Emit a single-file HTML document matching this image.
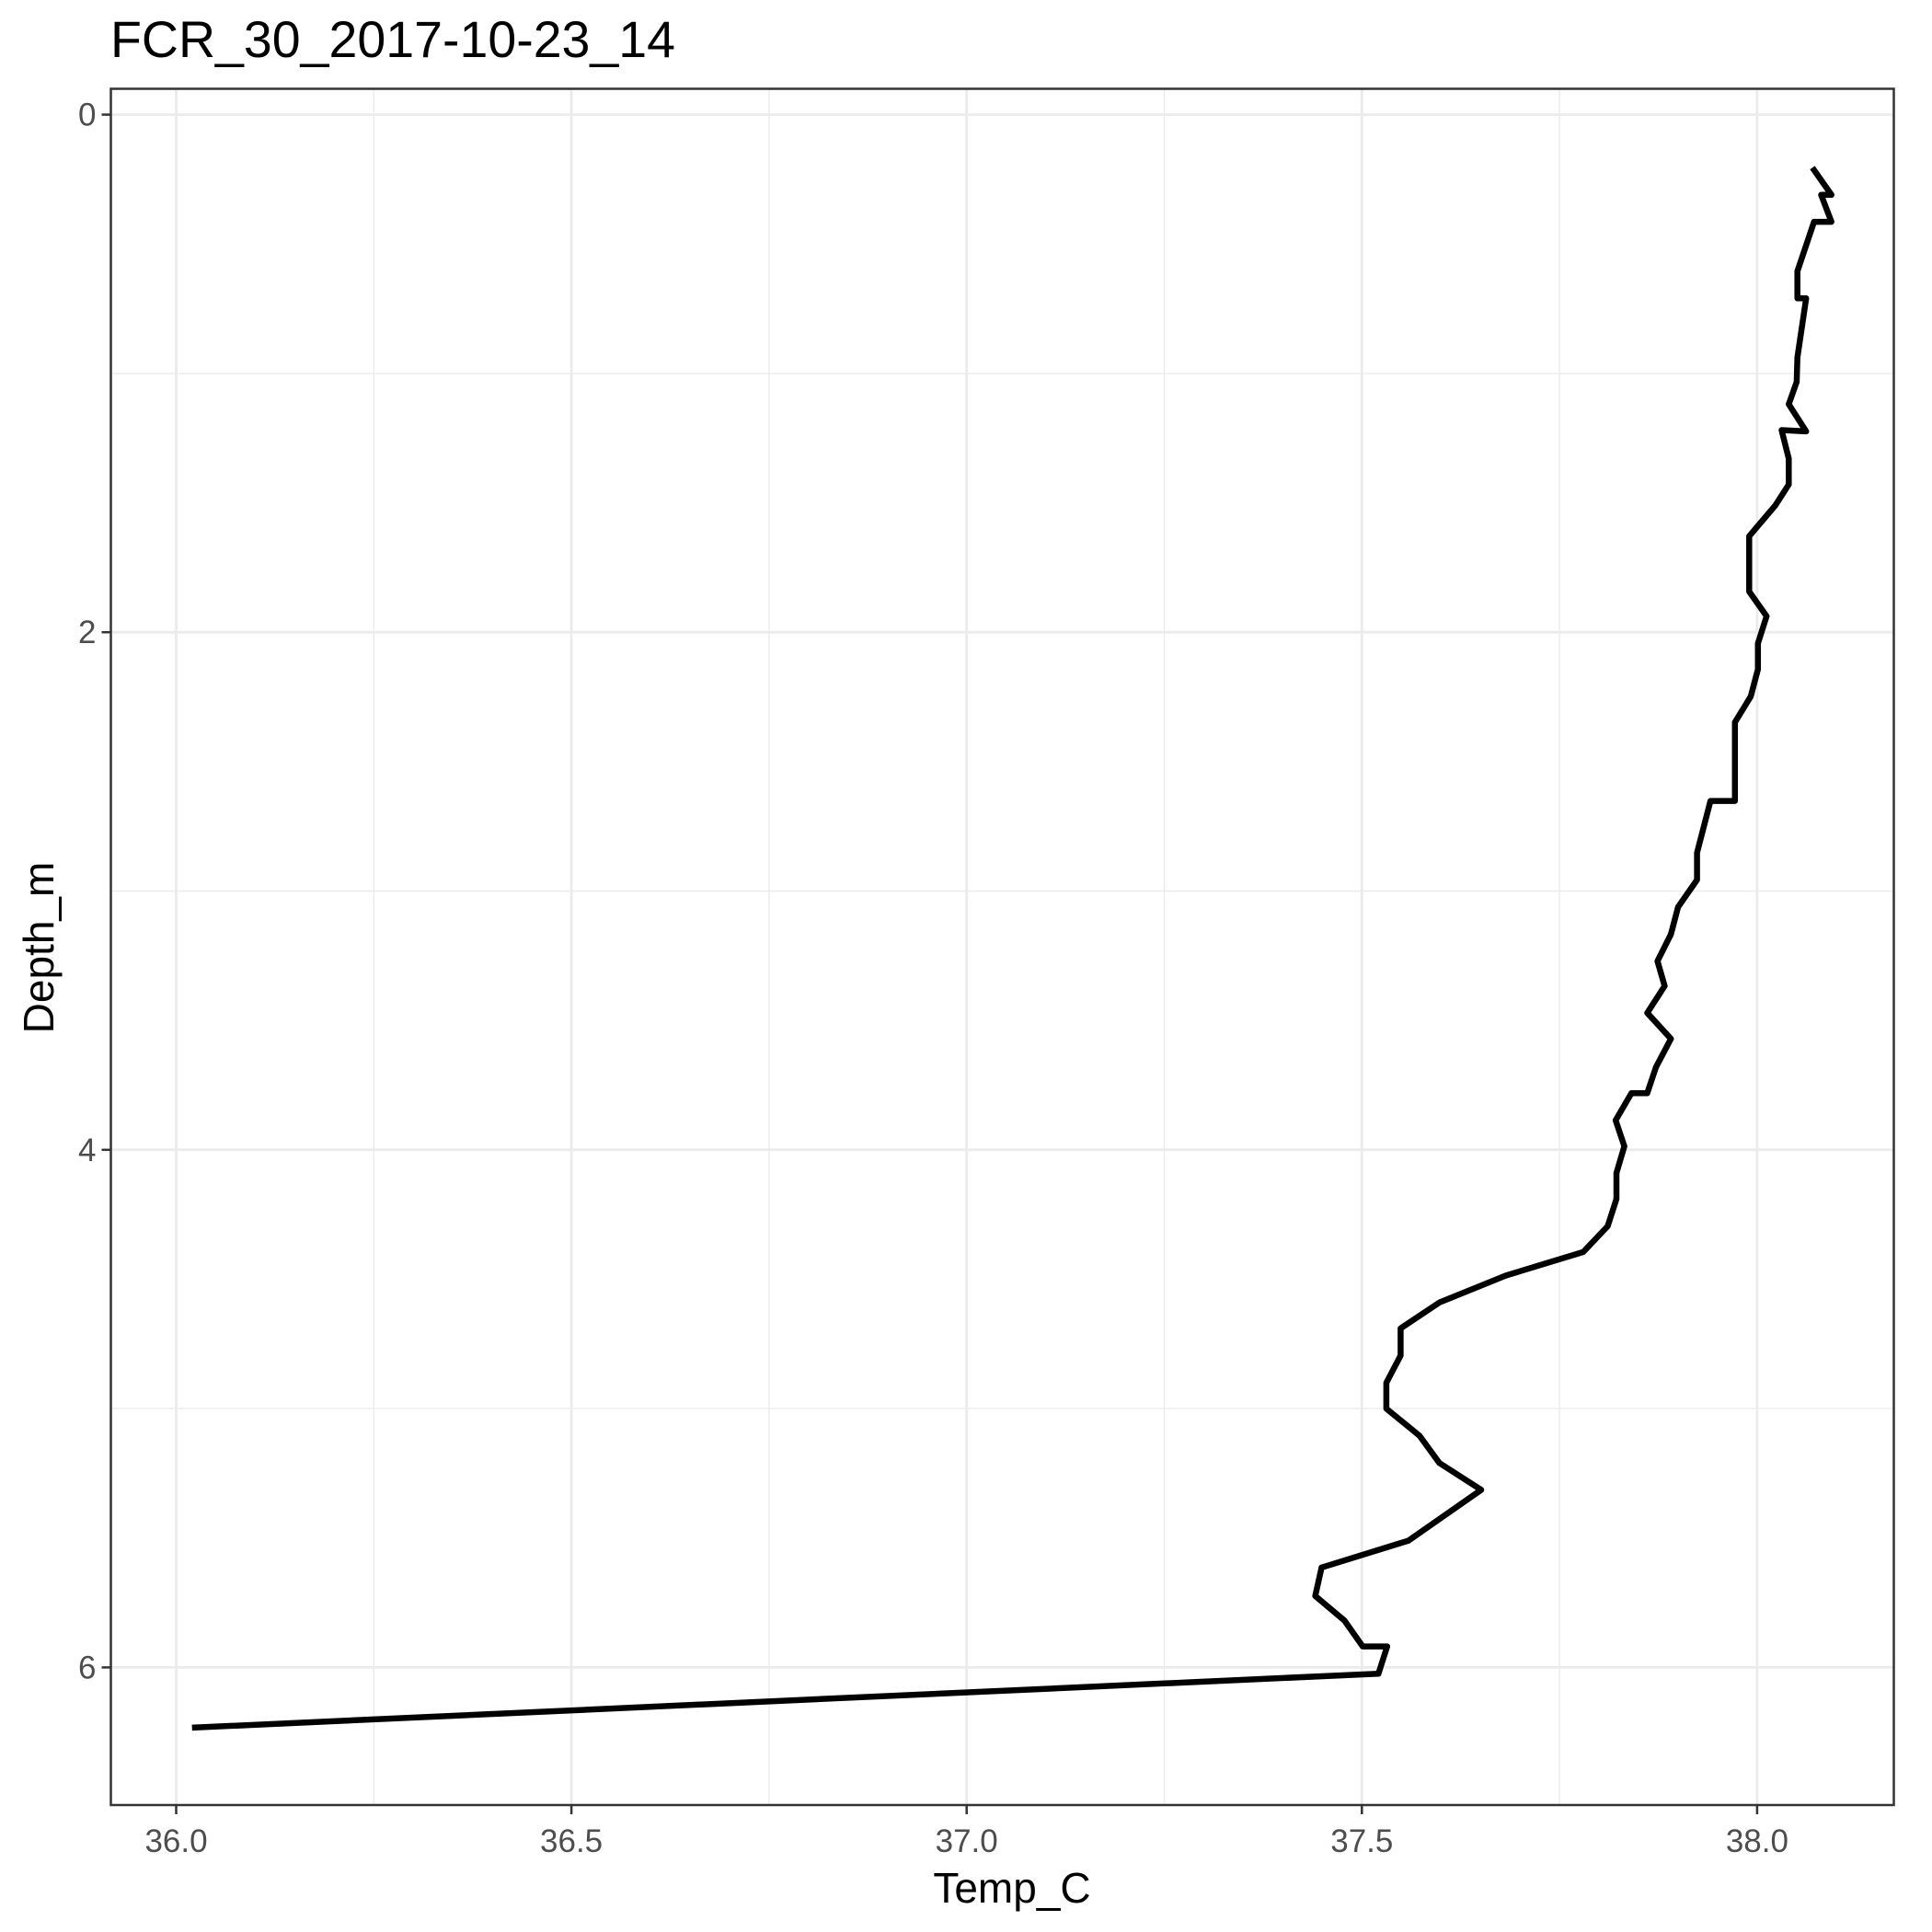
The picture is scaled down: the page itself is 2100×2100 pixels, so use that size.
<!DOCTYPE html>
<html><head><meta charset="utf-8"><style>
html,body{margin:0;padding:0;background:#fff}
svg{display:block;font-family:"Liberation Sans",Arial,sans-serif}
</style></head><body>
<svg id="chart" width="2100" height="2100" viewBox="0 0 2100 2100" xmlns="http://www.w3.org/2000/svg">
<rect width="2100" height="2100" fill="#fff"/>
<text x="120" y="62" font-size="55.5" fill="#000">FCR_30_2017-10-23_14</text>
<g id="grid"></g>
<g id="series"></g>
<rect x="120.5" y="96.5" width="1938" height="1865.5" fill="none" stroke="#333" stroke-width="2.5"/>
<g id="axes"></g>
<text x="1100" y="2068" font-size="46" text-anchor="middle" fill="#000">Temp_C</text>
<text transform="translate(58,1030) rotate(-90)" font-size="46" text-anchor="middle" fill="#000">Depth_m</text>
</svg>
<script>
const temps=[38.070,38.094,38.081,38.094,38.072,38.051,38.051,38.062,38.051,38.050,38.040,38.062,38.031,38.040,38.040,38.023,37.990,37.990,38.012,38.001,38.001,37.992,37.972,37.972,37.941,37.924,37.924,37.900,37.891,37.874,37.883,37.861,37.891,37.872,37.861,37.841,37.821,37.832,37.822,37.822,37.811,37.780,37.682,37.598,37.549,37.549,37.531,37.531,37.573,37.598,37.651,37.559,37.449,37.441,37.478,37.501,37.532,37.521,36.020];
const depths=[0.205,0.31,0.31,0.414,0.414,0.605,0.71,0.71,0.938,1.033,1.119,1.224,1.219,1.329,1.429,1.51,1.629,1.843,1.938,2.043,2.143,2.248,2.348,2.652,2.652,2.852,2.957,3.062,3.167,3.271,3.367,3.471,3.571,3.681,3.781,3.781,3.886,3.986,4.090,4.190,4.295,4.395,4.486,4.590,4.690,4.795,4.900,5.000,5.105,5.210,5.314,5.510,5.614,5.724,5.819,5.919,5.919,6.024,6.233];
const xTicks=[36.0,36.5,37.0,37.5,38.0];
const xTickLabels=["36.0","36.5","37.0","37.5","38.0"];
const xMinor=[36.25,36.75,37.25,37.75];
const yTicks=[0,2,4,6];
const yTickLabels=["0","2","4","6"];
const yMinor=[1,3,5];
const PL=120.5,PR=2058.5,PT=96.5,PB=1962;
function xs(v){return 191.5+(v-36)*859.2;}
function ys(v){return 124.6+v*281.3;}
const NS="http://www.w3.org/2000/svg";
function mk(tag,attrs,parent){const e=document.createElementNS(NS,tag);for(const k in attrs)e.setAttribute(k,attrs[k]);parent.appendChild(e);return e;}
const grid=document.getElementById('grid'),axes=document.getElementById('axes'),series=document.getElementById('series');
xMinor.forEach(v=>{const l=mk('line',{x1:xs(v),x2:xs(v),y1:PT,y2:PB,stroke:'#ebebeb','stroke-width':1.4},grid);

});
yMinor.forEach(v=>{const l=mk('line',{x1:PL,x2:PR,y1:ys(v),y2:ys(v),stroke:'#ebebeb','stroke-width':1.4},grid);

});
xTicks.forEach((v,i)=>{const l=mk('line',{x1:xs(v),x2:xs(v),y1:PT,y2:PB,stroke:'#ebebeb','stroke-width':2.8},grid);


const t=mk('line',{x1:xs(v),x2:xs(v),y1:PB,y2:PB+10,stroke:'#333','stroke-width':2.5},axes);


const tx=mk('text',{x:xs(v),y:2013,'font-size':35,'text-anchor':'middle',fill:'#4d4d4d'},axes);tx.textContent=xTickLabels[i];

});
yTicks.forEach((v,i)=>{const l=mk('line',{x1:PL,x2:PR,y1:ys(v),y2:ys(v),stroke:'#ebebeb','stroke-width':2.8},grid);


const t=mk('line',{x1:PL-10,x2:PL,y1:ys(v),y2:ys(v),stroke:'#333','stroke-width':2.5},axes);


const tx=mk('text',{x:PL-16,y:ys(v)+12,'font-size':35,'text-anchor':'end',fill:'#4d4d4d'},axes);tx.textContent=yTickLabels[i];

});
const pts=temps.map((t,i)=>xs(t).toFixed(1)+','+ys(depths[i]).toFixed(1)).join(' ');
const pl=mk('polyline',{points:pts,fill:'none',stroke:'#000','stroke-width':6.5,'stroke-linejoin':'round'},series);


</script>
</body></html>
